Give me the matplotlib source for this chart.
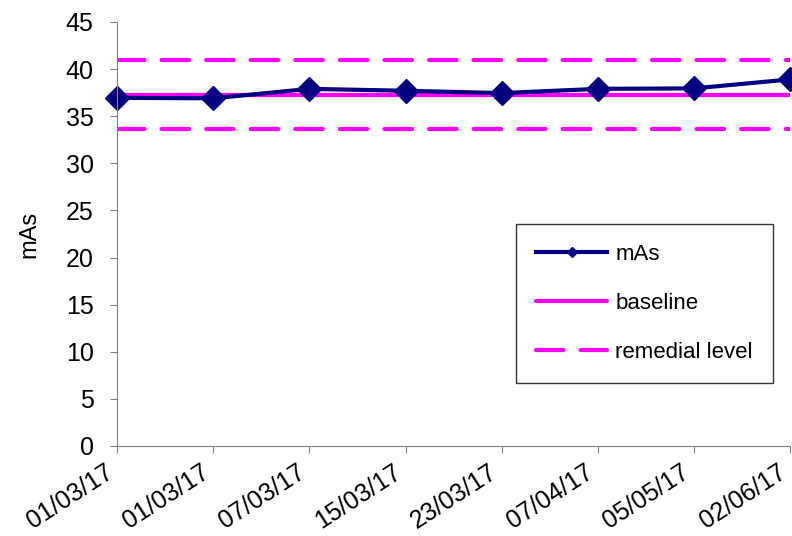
import matplotlib
matplotlib.use('Agg')
import matplotlib.pyplot as plt

dates = ['01/03/17', '01/03/17', '07/03/17', '15/03/17', '23/03/17', '07/04/17', '05/05/17', '02/06/17']
mas = [36.95, 36.9, 37.9, 37.7, 37.45, 37.9, 37.95, 38.9]
baseline = 37.3
remedial_low = 33.6
remedial_high = 41.0

plt.rcParams['font.family'] = ['Liberation Sans', 'DejaVu Sans']

fig = plt.figure(figsize=(7.92, 5.36), dpi=100)
ax = fig.add_axes([0.148, 0.168, 0.8495, 0.791])

x = list(range(len(dates)))
ax.plot(x, [remedial_high] * len(x), color='#FF00FF', lw=3, dashes=(6.6, 4.1),
        dash_capstyle='round', label='remedial level')
ax.plot(x, [remedial_low] * len(x), color='#FF00FF', lw=3, dashes=(6.6, 4.1),
        dash_capstyle='round')
ax.plot(x, [baseline] * len(x), color='#FF00FF', lw=3, solid_capstyle='round', label='baseline')
ax.plot(x, mas, color='#000080', lw=3, marker='D', ms=12, label='mAs', clip_on=False)

ax.set_xlim(0, len(x) - 1)
ax.set_ylim(0, 45)
ax.set_yticks(range(0, 46, 5))
ax.set_xticks(x)
ax.set_xticklabels(dates, rotation=33, ha='right', va='top', fontsize=17)
ax.tick_params(labelsize=18, direction='out', length=5, color='#808080')
ax.tick_params(axis='y', pad=12)
ax.tick_params(axis='x', pad=5)
ax.set_ylabel('mAs', fontsize=17, labelpad=18)
for s in ['top', 'right']:
    ax.spines[s].set_visible(False)
for s in ['left', 'bottom']:
    ax.spines[s].set_color('#808080')

h, l = ax.get_legend_handles_labels()
order = [2, 1, 0]
leg = ax.legend([h[i] for i in order], [l[i] for i in order], loc='upper left',
                bbox_to_anchor=(0.593, 0.5236), borderaxespad=0, fontsize=16, frameon=True,
                fancybox=False, edgecolor='black', handlelength=3.2, labelspacing=1.25,
                borderpad=0.9, handletextpad=0.35, markerscale=0.45)
leg.get_frame().set_linewidth(1)

fig.savefig('out.png', dpi=100)
